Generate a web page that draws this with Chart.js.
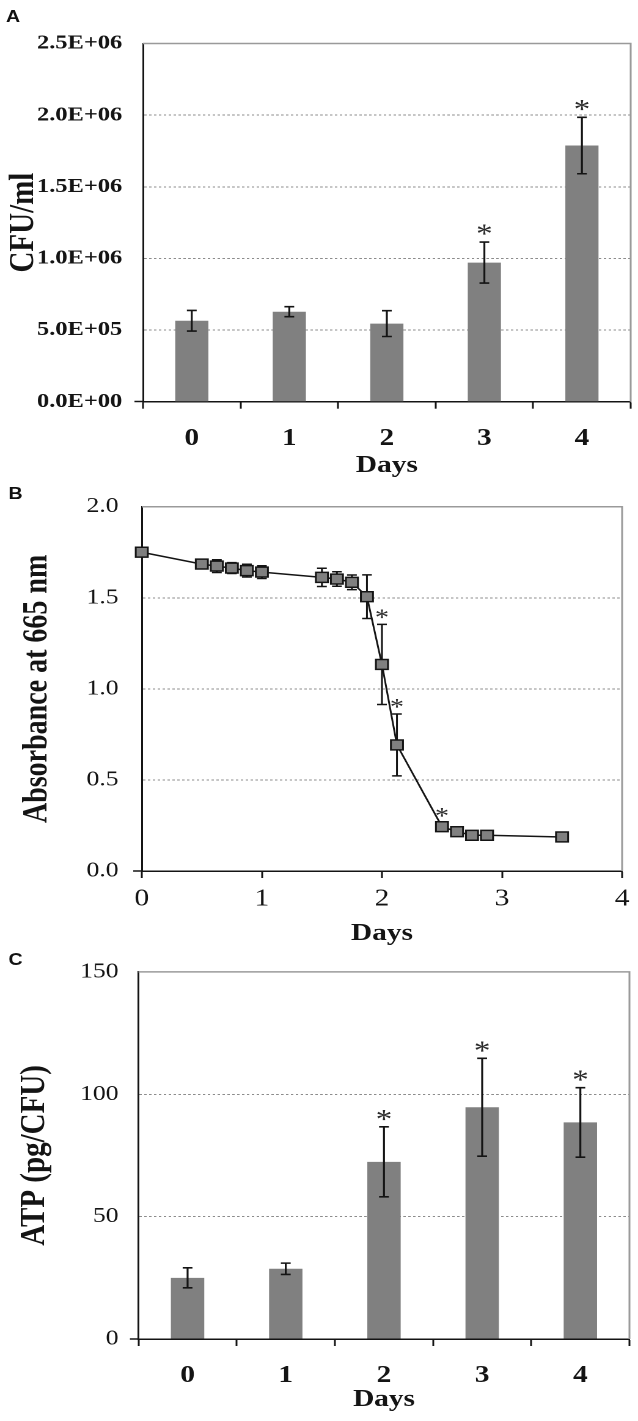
<!DOCTYPE html>
<html><head><meta charset="utf-8">
<script src="https://cdn.jsdelivr.net/npm/chart.js@4.4.1/dist/chart.umd.min.js"></script>
<style>
html,body{margin:0;padding:0;background:#fff;overflow:hidden;}
#page{position:relative;width:638px;height:1421px;overflow:hidden;background:#fff;}
#wrap{position:absolute;left:0;top:0;width:522px;height:1421px;transform:scaleX(1.22222);transform-origin:0 0;}
canvas{position:absolute;left:0;}
.lbl{position:absolute;font:bold 16px "Liberation Sans",Arial,sans-serif;color:#111;line-height:1;}
</style></head><body>
<div id="page"><div id="wrap">
<canvas id="cA" width="522" height="480" style="top:0px"></canvas>
<canvas id="cB" width="522" height="470" style="top:480px"></canvas>
<canvas id="cC" width="522" height="471" style="top:950px"></canvas>
<div class="lbl" style="left:5px;top:8.5px">A</div>
<div class="lbl" style="left:7px;top:485.5px">B</div>
<div class="lbl" style="left:7px;top:951.5px">C</div>
</div></div>
<script>
// ---------- data ----------
const daysA = ['0','1','2','3','4'];
const cfuMean = [5.65e5, 6.28e5, 5.45e5, 9.71e5, 1.788e6];
const cfuErr  = [0.72e5, 0.35e5, 0.90e5, 1.43e5, 1.97e5];
const cfuSig  = [false, false, false, true, true];
const yTicksA = ['0.0E+00','5.0E+05','1.0E+06','1.5E+06','2.0E+06','2.5E+06'];

const daysB = [0, 0.5, 0.625, 0.75, 0.875, 1.0, 1.5, 1.625, 1.75, 1.875, 2.0, 2.125, 2.5, 2.625, 2.75, 2.875, 3.5];
const absB  = [1.75, 1.685, 1.674, 1.663, 1.649, 1.641, 1.612, 1.603, 1.585, 1.506, 1.134, 0.692, 0.243, 0.216, 0.196, 0.196, 0.187];
const absErr= [0, 0.02, 0.035, 0.03, 0.035, 0.035, 0.05, 0.04, 0.04, 0.12, 0.22, 0.17, 0.02, 0.015, 0.01, 0.01, 0.01];
const absSig= [false,false,false,false,false,false,false,false,false,false,true,true,true,false,false,false,false];
const xTicksB = ['0','1','2','3','4'];
const yTicksB = ['0.0','0.5','1.0','1.5','2.0'];

const daysC = ['0','1','2','3','4'];
const atpMean = [25.0, 28.7, 72.4, 94.7, 88.5];
const atpErr  = [4.1, 2.3, 14.3, 20.0, 14.2];
const atpSig  = [false, false, true, true, true];
const yTicksC = ['0','50','100','150'];

// ---------- helpers ----------
const SERIF = '"Liberation Serif","Times New Roman",serif';
const INK = '#141414';
const GRID = '#8c8c8c';
Chart.defaults.color = INK;

function errPlugin(o){
  return {
    id: 'errbars',
    beforeDatasetsDraw(chart){
      const ctx = chart.ctx, a = chart.chartArea;
      ctx.save();
      ctx.strokeStyle = '#9a9a9a'; ctx.lineWidth = 1.5;
      ctx.beginPath();
      ctx.moveTo(a.left, a.top); ctx.lineTo(a.right, a.top); ctx.lineTo(a.right, a.bottom);
      ctx.stroke();
      ctx.restore();
      if (o.behind) drawErr(chart);
    },
    afterDatasetsDraw(chart){
      if (!o.behind) drawErr(chart);
      drawStars(chart);
    }
  };
  function drawErr(chart){
    const ctx = chart.ctx, ys = chart.scales.y, meta = chart.getDatasetMeta(0);
    ctx.save();
    ctx.strokeStyle = INK; ctx.lineWidth = o.lw;
    meta.data.forEach((el, i) => {
      const e = o.errors[i]; if (!e) return;
      const v = o.values[i], x = el.x;
      const yt = ys.getPixelForValue(v + e), yb = ys.getPixelForValue(v - e);
      ctx.beginPath();
      ctx.moveTo(x, yt); ctx.lineTo(x, yb);
      ctx.moveTo(x - o.cap, yt); ctx.lineTo(x + o.cap, yt);
      ctx.moveTo(x - o.cap, yb); ctx.lineTo(x + o.cap, yb);
      ctx.stroke();
    });
    ctx.restore();
  }
  function drawStars(chart){
    const ctx = chart.ctx, ys = chart.scales.y, meta = chart.getDatasetMeta(0);
    ctx.save();
    ctx.fillStyle = '#2a2a2a';
    ctx.font = o.starSize + 'px ' + SERIF;
    ctx.textAlign = 'center'; ctx.textBaseline = 'alphabetic';
    meta.data.forEach((el, i) => {
      if (!o.sig[i]) return;
      const yt = ys.getPixelForValue(o.values[i] + (o.errors[i] || 0));
      ctx.fillText('*', el.x, yt - o.starGap + o.starSize * 0.5);
    });
    ctx.restore();
  }
}

const yGrid = {
  color: c => (c.tick && c.tick.value === 0) ? 'rgba(0,0,0,0)' : GRID,
  lineWidth: 1, drawTicks: true, tickLength: 7, tickWidth: 1.5,
  tickColor: c => (c.tick && c.tick.value === 0) ? INK : 'rgba(0,0,0,0)'
};
const yBorder = {color: INK, width: 1.5, dash: [2, 2]};
const xGrid = {drawOnChartArea: false, drawTicks: true, tickLength: 7, tickColor: INK, tickWidth: 1.5};
const xBorder = {color: INK, width: 1.5};
const common = {
  responsive: false, maintainAspectRatio: false, animation: false, devicePixelRatio: 2,
  plugins: {legend: {display: false}, tooltip: {enabled: false}, title: {display: false}}
};

// ---------- A ----------
new Chart(document.getElementById('cA'), {
  type: 'bar',
  data: {labels: daysA, datasets: [{data: cfuMean, backgroundColor: '#808080', borderWidth: 0,
    barPercentage: 0.34, categoryPercentage: 1}]},
  options: Object.assign({}, common, {
    layout: {padding: {top: 43.5, right: 6, bottom: 0, left: 0}},
    scales: {
      x: {grid: Object.assign({offset: true}, xGrid), border: xBorder,
          ticks: {font: {family: SERIF, size: 24, weight: 'bold'}, padding: 15.5, maxRotation: 0, autoSkip: false, color: INK},
          title: {display: true, text: 'Days', color: INK, font: {family: SERIF, size: 24, weight: 'bold'}, padding: {top: 0, bottom: 0}},
          afterFit: s => { s.height = 78.3; }},
      y: {min: 0, max: 2.5e6,
          ticks: {stepSize: 5e5, callback: (v, i) => yTicksA[i], font: {family: SERIF, size: 20, weight: 'bold'}, padding: 10, color: INK},
          grid: yGrid, border: yBorder,
          title: {display: true, text: 'CFU/ml', color: INK, font: {family: SERIF, size: 29, weight: 'bold'}, padding: {top: 2, bottom: 0}},
          afterFit: s => { s.width = 117; }}
    }
  }),
  plugins: [errPlugin({values: cfuMean, errors: cfuErr, sig: cfuSig, lw: 1.6, cap: 4, starSize: 27, starGap: 13, behind: false})]
});

// ---------- B ----------
new Chart(document.getElementById('cB'), {
  type: 'scatter',
  data: {datasets: [{
    data: daysB.map((d, i) => ({x: d, y: absB[i]})),
    showLine: true, borderColor: INK, borderWidth: 1.5, clip: false,
    pointStyle: 'rect', pointRadius: 7, pointBackgroundColor: '#808080', pointBorderColor: INK, pointBorderWidth: 1.5
  }]},
  options: Object.assign({}, common, {
    layout: {padding: {top: 26.7, right: 7, bottom: 0, left: 0}},
    scales: {
      x: {type: 'linear', min: 0, max: 4, grid: xGrid, border: xBorder,
          ticks: {stepSize: 1, callback: (v, i) => xTicksB[i], font: {family: SERIF, size: 24}, padding: 7, maxRotation: 0, color: INK},
          title: {display: true, text: 'Days', color: INK, font: {family: SERIF, size: 24, weight: 'bold'}, padding: {top: 0, bottom: 2}},
          afterFit: s => { s.height = 79; }},
      y: {min: 0, max: 2,
          ticks: {stepSize: 0.5, callback: (v, i) => yTicksB[i], font: {family: SERIF, size: 21}, padding: 12, color: INK},
          grid: yGrid, border: yBorder,
          title: {display: true, text: 'Absorbance at 665 nm', color: INK, font: {family: SERIF, size: 28, weight: 'bold'}, padding: {top: 14.2, bottom: 0}},
          afterFit: s => { s.width = 116; }}
    }
  }),
  plugins: [errPlugin({values: absB, errors: absErr, sig: absSig, lw: 1.5, cap: 4, starSize: 23, starGap: 11, behind: true})]
});

// ---------- C ----------
new Chart(document.getElementById('cC'), {
  type: 'bar',
  data: {labels: daysC, datasets: [{data: atpMean, backgroundColor: '#808080', borderWidth: 0,
    barPercentage: 0.34, categoryPercentage: 1}]},
  options: Object.assign({}, common, {
    layout: {padding: {top: 21.7, right: 7, bottom: 0, left: 0}},
    scales: {
      x: {grid: Object.assign({offset: true}, xGrid), border: xBorder,
          ticks: {font: {family: SERIF, size: 24, weight: 'bold'}, padding: 15.5, maxRotation: 0, autoSkip: false, color: INK},
          title: {display: true, text: 'Days', color: INK, font: {family: SERIF, size: 24, weight: 'bold'}, padding: {top: 0, bottom: 7}},
          afterFit: s => { s.height = 82; }},
      y: {min: 0, max: 150,
          ticks: {stepSize: 50, callback: (v, i) => yTicksC[i], font: {family: SERIF, size: 21}, padding: 9.3, color: INK},
          grid: yGrid, border: yBorder,
          title: {display: true, text: 'ATP (pg/CFU)', color: INK, font: {family: SERIF, size: 29, weight: 'bold'}, padding: {top: 11.1, bottom: 0}},
          afterFit: s => { s.width = 113.3; }}
    }
  }),
  plugins: [errPlugin({values: atpMean, errors: atpErr, sig: atpSig, lw: 1.6, cap: 4, starSize: 27, starGap: 12.5, behind: false})]
});
</script>
</body></html>
